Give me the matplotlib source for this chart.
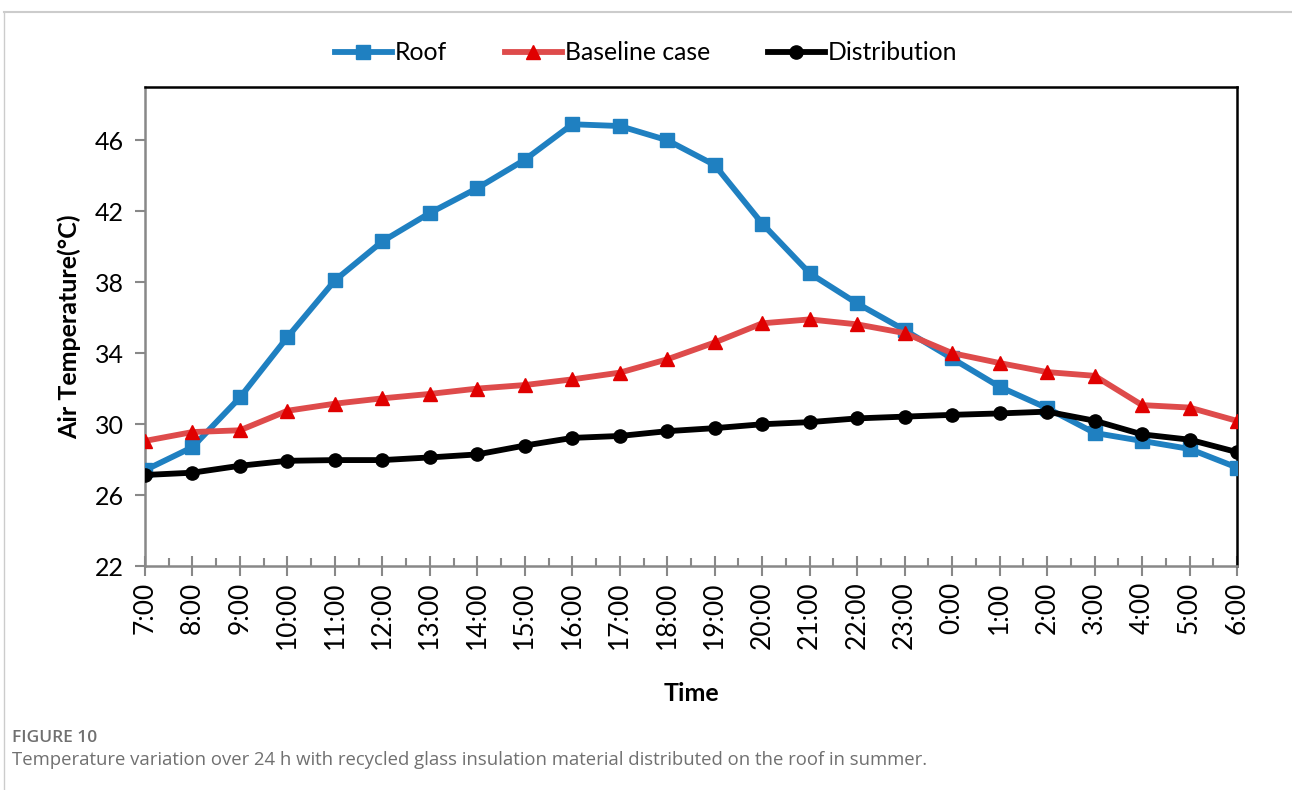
import matplotlib
matplotlib.use("Agg")
import matplotlib.pyplot as plt
from matplotlib.lines import Line2D
from matplotlib.ticker import FixedLocator

plt.rcParams['font.family'] = ['Lato', 'DejaVu Sans']

times = ["7:00", "8:00", "9:00", "10:00", "11:00", "12:00", "13:00", "14:00",
         "15:00", "16:00", "17:00", "18:00", "19:00", "20:00", "21:00", "22:00",
         "23:00", "0:00", "1:00", "2:00", "3:00", "4:00", "5:00", "6:00"]
roof = [27.4, 28.7, 31.5, 34.9, 38.1, 40.3, 41.9, 43.3, 44.9, 46.9, 46.8, 46.0,
        44.6, 41.3, 38.5, 36.8, 35.3, 33.7, 32.1, 30.9, 29.5, 29.05, 28.6, 27.55]
baseline = [29.05, 29.55, 29.65, 30.75, 31.15, 31.45, 31.7, 32.0, 32.2, 32.52, 32.9, 33.65,
            34.6, 35.68, 35.9, 35.62, 35.13, 34.0, 33.44, 32.93, 32.72, 31.07, 30.93, 30.18]
distribution = [27.13, 27.26, 27.65, 27.93, 27.97, 27.97, 28.12, 28.29, 28.79, 29.22, 29.33, 29.6,
                29.77, 29.99, 30.11, 30.32, 30.42, 30.52, 30.6, 30.7, 30.19, 29.42, 29.12, 28.42]

W, H = 1292, 790
fig = plt.figure(figsize=(W / 100, H / 100), dpi=100)
ax = fig.add_axes([145 / W, 1 - 566 / H, (1237 - 145) / W, (566 - 87) / H])

x = list(range(len(times)))
ax.plot(x, roof, color='#1F80C1', lw=4.2, marker='s', ms=9.5, label='Roof', zorder=3)
ax.plot(x, baseline, color='#DE4B4B', lw=4.2, marker='^', ms=10, mfc='#E00000', mec='#E00000',
        label='Baseline case', zorder=3)
ax.plot(x, distribution, color='black', lw=4.2, marker='o', ms=9.5, label='Distribution', zorder=4)

ax.set_xlim(0, len(times) - 1)
ax.set_ylim(22, 49)
ax.yaxis.set_major_locator(FixedLocator([22, 26, 30, 34, 38, 42, 46]))
ax.set_xticks(x)
ax.set_xticklabels(times, rotation=90, fontsize=19)
ax.xaxis.set_minor_locator(FixedLocator([i + 0.5 for i in range(len(times) - 1)]))
ax.tick_params(axis='y', labelsize=18, direction='out', length=7, width=1.5, color='#888888', pad=8)
ax.tick_params(axis='x', which='major', direction='inout', length=14, width=1.5, color='#888888', pad=4)
ax.tick_params(axis='x', which='minor', direction='in', length=6, width=1.5, color='#888888')

for s in ['left', 'bottom']:
    ax.spines[s].set_color('#888888')
    ax.spines[s].set_linewidth(1.8)
for s in ['top', 'right']:
    ax.spines[s].set_color('black')
    ax.spines[s].set_linewidth(1.8)

ax.set_ylabel('Air Temperature(°C)', fontsize=18, fontweight='bold', labelpad=10)
ax.set_xlabel('Time', fontsize=18, fontweight='bold', labelpad=24)

fig.legend(loc='center', bbox_to_anchor=(646 / W, 1 - 53 / H), ncol=3, frameon=False,
           fontsize=17.8, handlelength=2.3, columnspacing=2.35, handletextpad=0.12)

# frame lines
fig.add_artist(Line2D([4 / W, 1], [1 - 12 / H, 1 - 12 / H], transform=fig.transFigure,
                      color='#cccccc', lw=1.5))
fig.add_artist(Line2D([4 / W, 4 / W], [0, 1 - 12 / H], transform=fig.transFigure,
                      color='#cccccc', lw=1.0))

fig.text(12 / W, 1 - 738 / H, 'FIGURE 10', fontsize=12.5, color='#707070', va='center',
         family=['Open Sans', 'DejaVu Sans'], fontweight='semibold')
fig.text(12 / W, 1 - 760 / H,
         'Temperature variation over 24 h with recycled glass insulation material distributed on the roof in summer.',
         fontsize=13.3, color='#707070', va='center', family=['Open Sans', 'DejaVu Sans'])

fig.savefig('out.png', dpi=100)
